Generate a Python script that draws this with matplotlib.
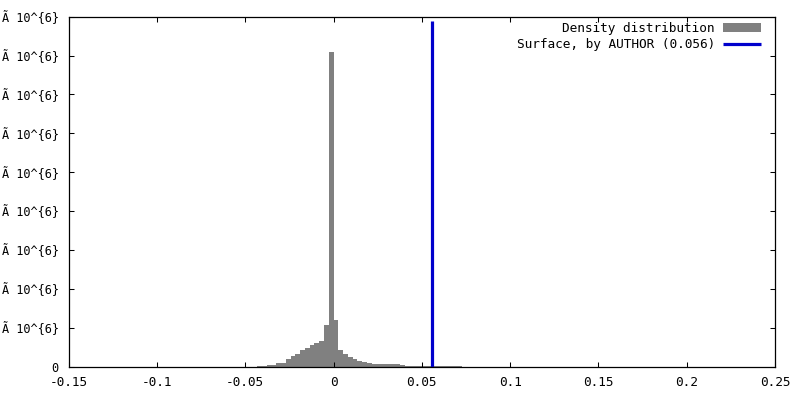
import matplotlib
matplotlib.use("Agg")
import matplotlib.pyplot as plt
import numpy as np

# ---- data (heights in units of 10^6) ----
bin_width = 0.0027
bin_index = list(range(-16, 27))
counts_millions = [
    0.02, 0.02, 0.04, 0.04, 0.10, 0.10, 0.19, 0.27, 0.33, 0.43,
    0.48, 0.55, 0.60, 0.66, 1.07, 8.09, 1.20, 0.43, 0.33, 0.245,
    0.19, 0.14, 0.12, 0.10, 0.07, 0.07, 0.07, 0.055, 0.055, 0.055,
    0.045, 0.02, 0.02, 0.02, 0.015, 0.015, 0.015, 0.015, 0.015, 0.015,
    0.015, 0.015, 0.015,
]
surface_value = 0.056
surface_top = 8.88

x_ticks = [-0.15, -0.1, -0.05, 0, 0.05, 0.1, 0.15, 0.2, 0.25]
x_ticklabels = ["-0.15", "-0.1", "-0.05", "0", "0.05", "0.1", "0.15", "0.2", "0.25"]
y_ticks = list(range(0, 10))
y_ticklabels = ["0"] + ["Ã 10^{6}"] * 9

series_labels = ["Density distribution", "Surface, by AUTHOR (0.056)"]

# ---- plot ----
plt.rcParams['font.family'] = ['DejaVu Sans Mono', 'DejaVu Sans']
fs = 9.2
fs_y = 8.6

fig = plt.figure(figsize=(8, 4), dpi=100)
ax = fig.add_axes([68.7 / 800, 1 - 366.5 / 400, (775 - 68.7) / 800, (366.5 - 16.7) / 400])

left_edges = np.array(bin_index) * bin_width
bars = ax.bar(left_edges, counts_millions, width=bin_width, align='edge',
              color='#808080', edgecolor='none', linewidth=0)
line, = ax.plot([surface_value, surface_value], [0, surface_top], color='#0000cc',
                linewidth=2.3, solid_capstyle='butt')

ax.set_xlim(-0.15, 0.25)
ax.set_ylim(0, 9)
ax.set_xticks(x_ticks)
ax.set_xticklabels(x_ticklabels, fontsize=fs)
ax.set_yticks(y_ticks)
ax.set_yticklabels(y_ticklabels, fontsize=fs_y)

ax.tick_params(direction='in', length=3.6, width=0.75, top=True, right=True,
               colors='black')
ax.tick_params(axis='x', pad=6.5)
ax.tick_params(axis='y', pad=7.3)
for s in ax.spines.values():
    s.set_linewidth(0.9)

leg = ax.legend([bars, line], series_labels, loc='upper right',
                bbox_to_anchor=(0.980, 0.986),
                frameon=False, markerfirst=False, fontsize=fs,
                handlelength=2.95, handleheight=0.68, handletextpad=0.65,
                labelspacing=0.28, borderpad=0, borderaxespad=0)

fig.savefig("out.png", dpi=100)
